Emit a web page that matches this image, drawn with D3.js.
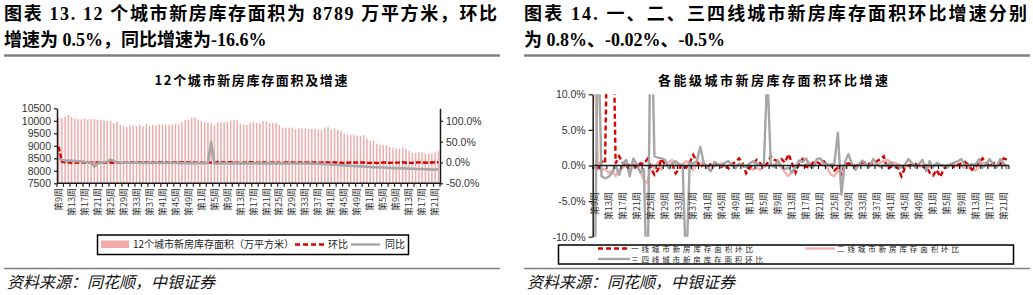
<!DOCTYPE html>
<html>
<head>
<meta charset="utf-8">
<script src="https://cdn.jsdelivr.net/npm/d3@7"></script>
<style>
  body { margin: 0; background: #fff; }
  svg { display: block; }
</style>
</head>
<body>
<div id="chart"></div>
<script>
// x categories: week 9 .. 52, then 1 .. 52, then 1 .. 22
const weekSegments = [[9, 52], [1, 52], [1, 22]];
const weekLabels = [];
weekSegments.forEach(function(s) {
    for (let w = s[0]; w <= s[1]; w++) weekLabels.push('第' + w + '周');
});

// 12个城市新房库存面积（万平方米）
const inventory = [
    10120, 10120, 10180, 10230, 10150, 10100, 10070, 10060, 10100, 10050,
    10070, 10070, 10040, 10040, 10000, 9990, 9990, 9910, 9960, 9830,
    9780, 9750, 9810, 9810, 9780, 9830, 9780, 9860, 9800, 9830,
    9800, 9860, 9860, 9860, 9830, 9860, 9880, 9860, 9940, 10020,
    10045, 10125, 10125, 10045, 9990, 9940, 9940, 9910, 9830, 9940,
    9940, 9940, 9965, 10020, 10045, 10020, 9885, 9830, 9830, 9910,
    9940, 9910, 9910, 9990, 9965, 9910, 9910, 9910, 9830, 9725,
    9725, 9725, 9725, 9670, 9700, 9700, 9700, 9670, 9670, 9670,
    9645, 9645, 9725, 9750, 9645, 9700, 9645, 9590, 9485, 9430,
    9430, 9430, 9405, 9405, 9430, 9300, 9195, 9220, 9085, 9030,
    9030, 9030, 8950, 8925, 8900, 8875, 8925, 8875, 8795, 8715,
    8715, 8740, 8740, 8690, 8690, 8690, 8740, 8789
];
// 环比 (%)
const momTotal = [
    38, 2.0, 0.6, 0.5, -0.8, -0.5, -0.3, -0.1, 0.4, -0.5,
    0.2, 0.0, -0.3, 0.0, -0.4, -0.1, 0.0, -0.8, 0.5, -1.3,
    -0.5, -0.3, 0.6, 0.0, -0.3, 0.5, -0.5, 0.8, -0.6, 0.3,
    -0.3, 0.6, 0.0, 0.0, -0.3, 0.3, 0.2, -0.2, 0.8, 0.8,
    0.3, 0.8, 0.0, -0.8, -0.5, -0.5, 0.0, -0.3, -0.8, 1.1,
    0.0, 0.0, 0.3, 0.5, 0.3, -0.3, -1.3, -0.5, 0.0, 0.8,
    0.3, -0.3, 0.0, 0.8, -0.3, -0.5, 0.0, 0.0, -0.8, -1.1,
    0.0, 0.0, 0.0, -0.6, 0.3, 0.0, 0.0, -0.3, 0.0, 0.0,
    -0.3, 0.0, 0.8, 0.3, -1.1, 0.6, -0.6, -0.6, -1.1, -0.6,
    0.0, 0.0, -0.3, 0.0, 0.3, -1.4, -1.1, 0.3, -1.5, -0.6,
    0.0, 0.0, -0.9, -0.3, -0.3, -0.3, 0.6, -0.6, -0.9, -0.9,
    0.0, 0.3, 0.0, -0.6, 0.0, 0.0, 0.6, 0.5
];
// 同比 (%)
const yoyTotal = [
    10, 6, 5, 4.5, 4, 3.5, 3, 2.5, 1.5, 1,
    0, -10, -3, 0, 1, 1.5, 7, 3, 0.5, -0.5,
    -0.5, -0.5, -0.8, -0.6, -0.8, -1, -0.9, -1, -1.1, -1,
    -1.2, -1.1, -1, -1.3, -1.2, -1.4, -1.3, -1.5, -1.4, -1.5,
    -1.6, -1.5, -1.4, -1.6, -1.8, -1.7, -1, 50, -3, -2.6,
    -2.4, -2.2, -2.3, -2.1, -2, -2.2, -2.1, -2, -2.3, -2.1,
    -2, -2.2, -2.1, -2.3, -2.2, -2, -2.1, -2.3, -2.2, -2.4,
    -2.3, -2.2, -2.4, -2.5, -2.3, -2.4, -2.6, -2.5, -2.7, -3,
    -3.2, -3.5, -3.8, -4.2, -4.8, -5.3, -5.9, -6.4, -7, -7.6,
    -8, -8.5, -9, -9.4, -9.8, -10.3, -10.8, -11.2, -11.5, -11.9,
    -12.2, -12.6, -13, -13.3, -13.5, -13.8, -14.1, -14.4, -14.8, -15.2,
    -15.5, -15.8, -16, -16.3, -16.6, -16.9, -17.1, -16.6
];

// 各能级环比 (%)
const tier1 = [
    -0.4, -0.3, 0.6, 0.3, 30, 30, 0.3, 1.3, 0.4, -0.4,
    0.2, 0.1, -0.2, 0.3, 0.2, 0.9, -0.4, -1.3, -0.6, 1.0,
    0.1, -0.2, 0.3, -1.1, -0.5, 0.2, -0.3, 0.4, 1.5, 0.6,
    -0.2, 0.1, -0.3, 0.2, 0.4, 0.1, -0.2, 0.3, -0.4, 0.2,
    0.5, 1.0, 0.3, -1.1, -0.3, 0.2, 0.8, 0.3, -0.2, 0.3,
    1.3, 0.8, 0.6, 0.9, 0.4, 1.6, 0.3, -1.0, 0.3, 0.9,
    -0.2, -0.3, 0.4, 0.5, 0.2, 0.6, 0.0, 0.1, -0.7, -0.3,
    -1.2, 0.2, 0.3, 0.1, -0.1, 0.2, 0.4, 0.5, 0.2, 0.3,
    0.6, 0.9, 1.3, -0.5, -0.2, -0.1, -0.3, -1.5, -0.4, 0.0,
    0.1, 0.2, 0.0, -0.2, 0.0, -1.0, -1.4, -0.6, -1.6, -0.5,
    0.0, 0.2, -0.2, 0.1, 0.3, 0.5, 0.1, -0.6, -0.2, 0.4,
    1.0, 0.5, -0.2, 0.3, 0.5, 0.2, 1.0, 0.8
];
const tier2 = [
    15, -0.5, -0.6, -0.5, -1.0, -0.8, -1.5, -0.6, -0.3, 0.2,
    -0.5, -0.3, 0.1, -0.8, -2.0, -2.5, 0.2, -0.4, 0.5, -0.6,
    0.3, 0.4, 0.8, 0.3, -0.4, 0.2, 0.6, 0.2, -0.6, 0.1,
    0.4, 0.3, 0.0, 0.2, -0.1, 0.1, 0.3, -0.2, 0.0, 0.2,
    -0.1, 0.3, 0.0, -0.2, -0.4, -0.6, -0.3, -0.6, -0.2, 0.1,
    0.0, 0.2, 0.1, -0.3, -1.0, -1.5, -0.8, -0.2, 0.1, 0.0,
    0.2, 0.4, 0.3, 0.5, 0.2, 0.0, -0.3, -1.3, -1.5, -0.8,
    -0.2, 0.0, 0.1, 0.2, -0.1, 0.1, 0.3, 0.2, 0.0, 0.1,
    0.2, 0.4, 0.6, 0.8, 0.5, 0.4, 0.2, 0.0, -0.2, 0.0,
    0.1, 0.0, -0.1, -0.2, -0.3, -0.2, 0.0, 0.1, 0.0, -0.2,
    0.0, 0.1, 0.0, -0.1, -0.2, -0.3, -0.3, -0.5, -0.7, -0.2,
    0.4, 0.2, 0.0, -0.1, 0.0, 0.2, 0.1, -0.02
];
const tier34 = [
    -20, 20, -1.5, -1.8, -1.6, -1.0, 0.0, -1.3, 0.2, 0.8,
    -1.5, 1.0, 0.2, -1.0, -0.5, -20, 25, 1.3, 1.1, 1.0,
    0.8, -0.4, 0.3, 0.6, 0.2, 0.0, -15, 0.4, 0.3, 0.6,
    2.6, 0.3, -0.3, -0.8, 0.5, 0.2, 0.0, 0.4, 0.6, 0.1,
    -0.4, 0.2, 0.1, -0.2, 0.3, 0.6, 0.3, 0.0, 0.0, 13,
    0.0, -0.2, 0.7, -0.1, -0.5, -0.3, -1.0, -0.2, 0.7, 0.5,
    1.0, -0.1, -0.3, 0.9, 1.0, 0.3, 0.2, 0.0, 0.3, 4.6,
    -4.1, 0.5, 1.6, 0.2, -0.6, 0.2, 0.7, 0.1, -0.2, 0.9,
    0.2, -0.2, 0.0, 0.1, 0.4, -0.1, 0.0, -0.3, 0.1, 0.9,
    0.3, -0.3, 0.2, 0.8, -0.8, 0.6, -0.3, 0.4, 0.1, 0.0,
    -0.3, 0.2, 0.4, 0.6, 0.9, 0.1, 0.0, 0.2, 0.1, 0.9,
    -0.3, 0.1, 0.9, 0.2, -0.3, 0.9, 0.3, -0.5
];

const leftTicks = [7500, 8000, 8500, 9000, 9500, 10000, 10500];
const rightTicks = [-50, 0, 50, 100];
const pctTicks = [-10, -5, 0, 5, 10];

const cjk = "'Noto Sans CJK SC', sans-serif";
const serifBold = "'Liberation Serif', 'Noto Sans CJK SC', serif";
const num = "'Liberation Sans', Arial, sans-serif";

const red = '#d90000', pinkBar = '#f0abab', pinkLine = '#f4b0b0', grey = '#a6a6a6';

const svg = d3.select('#chart').append('svg')
    .attr('width', 1033)
    .attr('height', 295);

// ---------- header / footer for both panels ----------
function frame(x0, x1, line1, line2) {
    svg.append('text').attr('x', x0 + 4).attr('y', 20)
        .attr('textLength', x1 - x0 - 7).attr('lengthAdjust', 'spacing')
        .style('font-family', serifBold).style('font-weight', 'bold').style('font-size', '18px')
        .text(line1);
    svg.append('text').attr('x', x0 + 4).attr('y', 46)
        .style('font-family', serifBold).style('font-weight', 'bold').style('font-size', '18px')
        .text(line2);
    svg.append('line').attr('x1', x0 + 4).attr('x2', x1).attr('y1', 55.5).attr('y2', 55.5)
        .attr('stroke', '#7f7f7f').attr('stroke-width', 2.5);
    svg.append('line').attr('x1', x0 + 4).attr('x2', x1).attr('y1', 268.5).attr('y2', 268.5)
        .attr('stroke', '#7f7f7f').attr('stroke-width', 1.6);
    svg.append('text').attr('x', x0 + 7).attr('y', 288)
        .style('font-family', cjk).style('font-style', 'italic').style('font-size', '16px')
        .style('fill', '#111')
        .text('资料来源：同花顺，中银证券');
}
frame(0, 500, '图表 13. 12 个城市新房库存面积为 8789 万平方米，环比', '增速为 0.5%，同比增速为-16.6%');
frame(520, 1030, '图表 14. 一、二、三四线城市新房库存面积环比增速分别', '为 0.8%、-0.02%、-0.5%');

function chartTitle(cx, width, txt) {
    svg.append('text').attr('x', cx - width / 2).attr('y', 85)
        .attr('textLength', width).attr('lengthAdjust', 'spacing')
        .style('font-family', cjk).style('font-weight', 'bold').style('font-size', '13px')
        .text(txt);
}

function categoryAxis(x, y0, labelTop) {
    const n = x.domain().length;
    const g = svg.append('g');
    g.append('line').attr('x1', x.range()[0]).attr('x2', x.range()[1])
        .attr('y1', y0).attr('y2', y0).attr('stroke', '#1a1a1a').attr('stroke-width', 1.5);
    g.selectAll('line.tk').data(d3.range(0, n + 1, 2)).join('line')
        .attr('class', 'tk')
        .attr('x1', i => i < n ? x(i) : x.range()[1])
        .attr('x2', i => i < n ? x(i) : x.range()[1])
        .attr('y1', y0).attr('y2', y0 + 3.5)
        .attr('stroke', '#1a1a1a').attr('stroke-width', 1.2);
    g.selectAll('text').data(d3.range(0, n, 4)).join('text')
        .attr('transform', i => 'translate(' + (x(i) + x.bandwidth() / 2) + ',' + labelTop + ') rotate(-90)')
        .attr('dy', '0.35em')
        .attr('text-anchor', 'end')
        .style('font-family', cjk).style('font-size', '9px').style('fill', '#333')
        .text(i => weekLabels[i]);
}

function styleAxis(g, size) {
    g.select('.domain').attr('stroke', '#1a1a1a').attr('stroke-width', 1.5);
    g.selectAll('.tick line').attr('stroke', '#1a1a1a').attr('stroke-width', 1.2);
    g.selectAll('.tick text').style('font-family', num).style('font-size', size).style('fill', '#333');
}

// ---------- left: 12个城市新房库存面积及增速 ----------
const idx = d3.range(weekLabels.length);
const xL = d3.scaleBand().domain(idx).range([57, 440]);
const yL = d3.scaleLinear().domain([7500, 10500]).range([183.3, 108.3]);
const yR = d3.scaleLinear().domain([-50, 130]).range([183.3, 108.3]);
const bw = xL.bandwidth();

chartTitle(251, 193, '12个城市新房库存面积及增速');

svg.append('g').selectAll('rect').data(inventory).join('rect')
    .attr('x', (d, i) => xL(i) + bw * 0.27)
    .attr('width', bw * 0.46)
    .attr('y', d => yL(d))
    .attr('height', d => yL(7500) - yL(d))
    .attr('fill', pinkBar);

const lineL = d3.line().x((d, i) => xL(i) + bw / 2).y(d => yR(d));
svg.append('path').datum(momTotal).attr('d', lineL)
    .attr('fill', 'none').attr('stroke', red).attr('stroke-width', 2.4)
    .attr('stroke-dasharray', '5,2');
svg.append('path').datum(yoyTotal).attr('d', lineL)
    .attr('fill', 'none').attr('stroke', grey).attr('stroke-width', 2.6)
    .attr('stroke-linejoin', 'round');

const axL = svg.append('g').attr('transform', 'translate(57,0)')
    .call(d3.axisLeft(yL).tickValues(leftTicks).tickSize(3).tickSizeOuter(0).tickPadding(3)
        .tickFormat(d3.format('d')));
styleAxis(axL, '10.5px');
const axR = svg.append('g').attr('transform', 'translate(440,0)')
    .call(d3.axisRight(yR).tickValues(rightTicks).tickSize(3).tickSizeOuter(0).tickPadding(3)
        .tickFormat(d => d.toFixed(1) + '%'));
styleAxis(axR, '10.5px');
categoryAxis(xL, 183.3, 188);

// legend
const lg1 = svg.append('g');
lg1.append('rect').attr('x', 97.5).attr('y', 235).attr('width', 311).attr('height', 19.5)
    .attr('fill', '#fff').attr('stroke', '#000').attr('stroke-width', 1.5);
lg1.append('rect').attr('x', 101).attr('y', 240.5).attr('width', 28).attr('height', 7.5).attr('fill', pinkBar);
lg1.append('line').attr('x1', 295).attr('x2', 325).attr('y1', 244.5).attr('y2', 244.5)
    .attr('stroke', red).attr('stroke-width', 2.4).attr('stroke-dasharray', '5,3');
lg1.append('line').attr('x1', 351).attr('x2', 380).attr('y1', 244.5).attr('y2', 244.5)
    .attr('stroke', grey).attr('stroke-width', 2.4);
[[133, '12个城市新房库存面积（万平方米）'], [328, '环比'], [385, '同比']].forEach(function(t) {
    lg1.append('text').attr('x', t[0]).attr('y', 248)
        .style('font-family', cjk).style('font-size', '10px').style('fill', '#222')
        .text(t[1]);
});

// ---------- right: 各能级城市新房库存面积环比增速 ----------
const x2 = d3.scaleBand().domain(idx).range([592.7, 1009]);
const y2 = d3.scaleLinear().domain([-10, 10]).range([236.7, 94.3]);
const bw2 = x2.bandwidth();

chartTitle(773, 230, '各能级城市新房库存面积环比增速');

svg.append('clipPath').attr('id', 'plot2')
    .append('rect').attr('x', 592.7).attr('y', y2(10)).attr('width', 1009 - 592.7).attr('height', y2(-10) - y2(10));

const line2 = d3.line().x((d, i) => x2(i) + bw2 / 2).y(d => y2(d));
const g2 = svg.append('g').attr('clip-path', 'url(#plot2)');
g2.append('path').datum(tier2).attr('d', line2)
    .attr('fill', 'none').attr('stroke', pinkLine).attr('stroke-width', 2.4).attr('stroke-linejoin', 'round');
g2.append('path').datum(tier1).attr('d', line2)
    .attr('fill', 'none').attr('stroke', red).attr('stroke-width', 2.4).attr('stroke-dasharray', '5,3');
g2.append('path').datum(tier34).attr('d', line2)
    .attr('fill', 'none').attr('stroke', grey).attr('stroke-width', 2.4).attr('stroke-linejoin', 'round');

const ax2 = svg.append('g').attr('transform', 'translate(592.7,0)')
    .call(d3.axisLeft(y2).tickValues(pctTicks).tickSize(4).tickSizeOuter(0).tickPadding(3)
        .tickFormat(d => d.toFixed(1) + '%'));
styleAxis(ax2, '10.5px');
categoryAxis(x2, y2(0), 192);

// legend (two rows, squeezed like the original)
const lg2 = svg.append('g');
lg2.append('rect').attr('x', 558.5).attr('y', 245).attr('width', 455).attr('height', 19)
    .attr('fill', '#fff').attr('stroke', '#000').attr('stroke-width', 1.5);
lg2.append('line').attr('x1', 598).attr('x2', 630).attr('y1', 248.5).attr('y2', 248.5)
    .attr('stroke', red).attr('stroke-width', 2.4).attr('stroke-dasharray', '5,3');
lg2.append('line').attr('x1', 805).attr('x2', 835).attr('y1', 248.5).attr('y2', 248.5)
    .attr('stroke', pinkLine).attr('stroke-width', 2.4);
lg2.append('line').attr('x1', 598).attr('x2', 630).attr('y1', 259).attr('y2', 259)
    .attr('stroke', grey).attr('stroke-width', 2.4);
[[631, 251.5, 122, '一线城市新房库存面积环比'], [837, 251.5, 122, '二线城市新房库存面积环比'], [631, 262.5, 132, '三四线城市新房库存面积环比']].forEach(function(t) {
    lg2.append('text').attr('x', t[0]).attr('y', t[1])
        .attr('textLength', t[2]).attr('lengthAdjust', 'spacing')
        .style('font-family', cjk).style('font-size', '7.5px').style('fill', '#222')
        .text(t[3]);
});
</script>
</body>
</html>
